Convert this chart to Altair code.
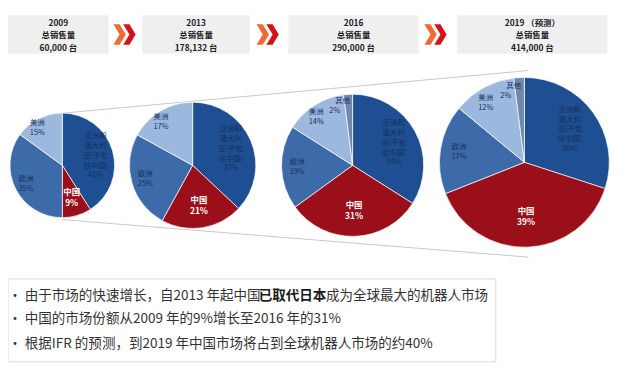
import altair as alt
import pandas as pd

# ---------------- data ----------------
years = ["2009", "2013", "2016", "2019"]
header_titles = ["2009", "2013", "2016", "2019 （预测）"]
header_totals = ["60,000 台", "178,132 台", "290,000 台", "414,000 台"]
regions = ["亚洲和澳大利亚(不包括中国)", "中国", "欧洲", "美洲", "其他"]
region_labels = ["亚洲和\n澳大利\n亚(不包\n括中国)", "中国", "欧洲", "美洲", "其他"]
share_2009 = [41, 9, 35, 15, 0]
share_2013 = [37, 21, 25, 17, 0]
share_2016 = [34, 31, 19, 14, 2]
share_2019 = [30, 39, 17, 12, 2]
region_colors = ["#1f4f93", "#9b0f1b", "#3d6aa8", "#9cb8de", "#6f88ab"]

bullet_1a = "由于市场的快速增长，自2013 年起中国"
bullet_1b = "已取代日本"
bullet_1c = "成为全球最大的机器人市场"
bullet_2 = "中国的市场份额从2009 年的9%增长至2016 年的31%"
bullet_3 = "根据IFR 的预测，到2019 年中国市场将占到全球机器人市场的约40%"

# ---------------- layout (screen px, page margin 8) ----------------
OFF = 8
FONT = "Noto Sans CJK SC"
pies = [(63, 165, 53), (195, 165, 64), (357, 165, 72), (531, 162, 86)]
boxes = [(8, 110), (144, 253), (292, 424), (463, 615)]
arrows_x = [126, 271, 441]


def X(v):
    return alt.value(v - OFF)


def Y(v):
    return alt.value(v - OFF)


rows = []
for yr, shares in zip(years, [share_2009, share_2013, share_2016, share_2019]):
    for i, (r, lab, s) in enumerate(zip(regions, region_labels, shares)):
        if s > 0:
            rows.append(dict(year=yr, region=r, idx=i, share=s, label=f"{lab}\n{s}%"))
df = pd.DataFrame(rows)

theta_scale = alt.Scale(domain=[0, 100])
color_enc = alt.Color("region:N", scale=alt.Scale(domain=regions, range=region_colors), legend=None)
theta_enc = alt.Theta("share:Q", stack=True, scale=theta_scale)
order_enc = alt.Order("idx:Q")
mid_enc = alt.Theta("mid:Q", stack=None, scale=theta_scale)

layers = []
dummy = pd.DataFrame({"a": [0]})

# funnel lines behind pies
layers.append(alt.Chart(dummy).mark_rule(color="#c8c8c8", strokeWidth=1).encode(
    x=X(65), y=Y(112), x2=X(535), y2=Y(69)))
layers.append(alt.Chart(dummy).mark_rule(color="#c8c8c8", strokeWidth=1).encode(
    x=X(63), y=Y(220), x2=X(535), y2=Y(258)))

# header boxes
for (x0, x1), t, tot in zip(boxes, header_titles, header_totals):
    layers.append(alt.Chart(dummy).mark_rect(fill="#efefef").encode(
        x=X(x0), x2=X(x1), y=Y(13), y2=Y(52)))
    hd = pd.DataFrame({"txt": [f"{t}\n总销售量\n{tot}"]})
    layers.append(alt.Chart(hd).mark_text(font=FONT, fontSize=8.5, fontWeight="bold", color="#222222",
                                          lineBreak="\n", lineHeight=12.5, align="center",
                                          baseline="middle").encode(
        text="txt:N", x=X((x0 + x1) / 2), y=Y(21)))

# arrows (double chevrons)
chev = "M-0.6,-1L0,-1L0.6,0L0,1L-0.6,1L0,0Z"
for ax in arrows_x:
    layers.append(alt.Chart(dummy).mark_point(shape=chev, filled=True, size=441, opacity=1,
                                              color="#ef6a35").encode(x=X(ax - 5), y=Y(32.5)))
    layers.append(alt.Chart(dummy).mark_point(shape=chev, filled=True, size=441, opacity=1,
                                              color="#d5121c").encode(x=X(ax + 5), y=Y(32.5)))

# pies
for yr, (cx, cy, R) in zip(years, pies):
    d = df[df["year"] == yr]
    base = alt.Chart(d)
    layers.append(base.mark_arc(outerRadius=R, stroke="white", strokeWidth=0.7).encode(
        theta=theta_enc, color=color_enc, order=order_enc, x=X(cx), y=Y(cy)))
    stacked = base.transform_stack(
        stack="share", groupby=[], as_=["s0", "s1"], sort=[alt.SortField("idx", order="ascending")]
    ).transform_calculate(mid="(datum.s0 + datum.s1) / 2")
    # Asia label (5 lines)
    layers.append(stacked.transform_filter("datum.idx == 0").mark_text(
        radius=R * 0.66, dy=-20, font=FONT, fontSize=7.5, color="#15305a", lineBreak="\n",
        lineHeight=10, align="center", baseline="middle").encode(
        theta=mid_enc, text="label:N", x=X(cx), y=Y(cy)))
    # Europe label
    layers.append(stacked.transform_filter("datum.idx == 2").mark_text(
        radius=R * 0.78, dy=-5, font=FONT, fontSize=7.5, color="#15305a", lineBreak="\n",
        lineHeight=10, align="center", baseline="middle").encode(
        theta=mid_enc, text="label:N", x=X(cx), y=Y(cy)))
    # Americas label
    layers.append(stacked.transform_filter("datum.idx == 3").mark_text(
        radius=R * 0.8, dx=-6, dy=-5, font=FONT, fontSize=7.5, color="#15305a", lineBreak="\n",
        lineHeight=10, align="center", baseline="middle").encode(
        theta=mid_enc, text="label:N", x=X(cx), y=Y(cy)))
    # China label
    layers.append(stacked.transform_filter("datum.region == '中国'").mark_text(
        radius=R * 0.64, dy=-5.5, font=FONT, fontSize=8.5, fontWeight="bold", color="white",
        lineBreak="\n", lineHeight=11, align="center", baseline="middle").encode(
        theta=mid_enc, text="label:N", x=X(cx), y=Y(cy)))
    if (d["region"] == "其他").any():
        oth = stacked.transform_filter("datum.region == '其他'").transform_calculate(
            pct="datum.share + '%'")
        layers.append(oth.mark_text(radius=R * 0.9, dx=-6, font=FONT, fontSize=7.5, color="#15305a",
                                    align="center", baseline="middle").encode(
            theta=mid_enc, text="region:N", x=X(cx), y=Y(cy)))
        layers.append(oth.mark_text(radius=R * 0.9, dx=-14, dy=10, font=FONT, fontSize=7.5,
                                    color="#15305a", align="center", baseline="middle").encode(
            theta=mid_enc, text="pct:N", x=X(cx), y=Y(cy)))

# bottom text box
layers.append(alt.Chart(dummy).mark_rect(fill="white", stroke="#d9d9d9", strokeWidth=1).encode(
    x=X(8), x2=X(502), y=Y(280), y2=Y(364)))

lines = pd.DataFrame({
    "txt": [bullet_1a, bullet_1b, bullet_1c, bullet_2, bullet_3],
    "bold": [False, True, False, False, False],
})
line_x = [25, 262, 330, 25, 25]
line_y = [297, 297, 297, 321, 346]
for i in range(len(lines)):
    row = lines.iloc[[i]]
    is_bold = bool(row["bold"].iloc[0])
    layers.append(alt.Chart(row).mark_text(
        font=FONT, fontSize=13.7, fontWeight="bold" if is_bold else "normal",
        color="#1a1a1a" if is_bold else "#333333",
        align="left", baseline="middle").encode(text="txt:N", x=X(line_x[i]), y=Y(line_y[i])))
for by in [297, 321, 346]:
    layers.append(alt.Chart(pd.DataFrame({"b": ["·"]})).mark_text(
        font=FONT, fontSize=13.7, color="#333333", align="center", baseline="middle").encode(
        text="b:N", x=X(15), y=Y(by)))

chart = alt.layer(*layers).properties(
    width=632, height=364, padding=0,
    autosize=alt.AutoSizeParams(type="none"),
    background="white",
).configure_view(stroke=None)

chart.save("out.html", embed_options={"renderer": "svg", "actions": False})
